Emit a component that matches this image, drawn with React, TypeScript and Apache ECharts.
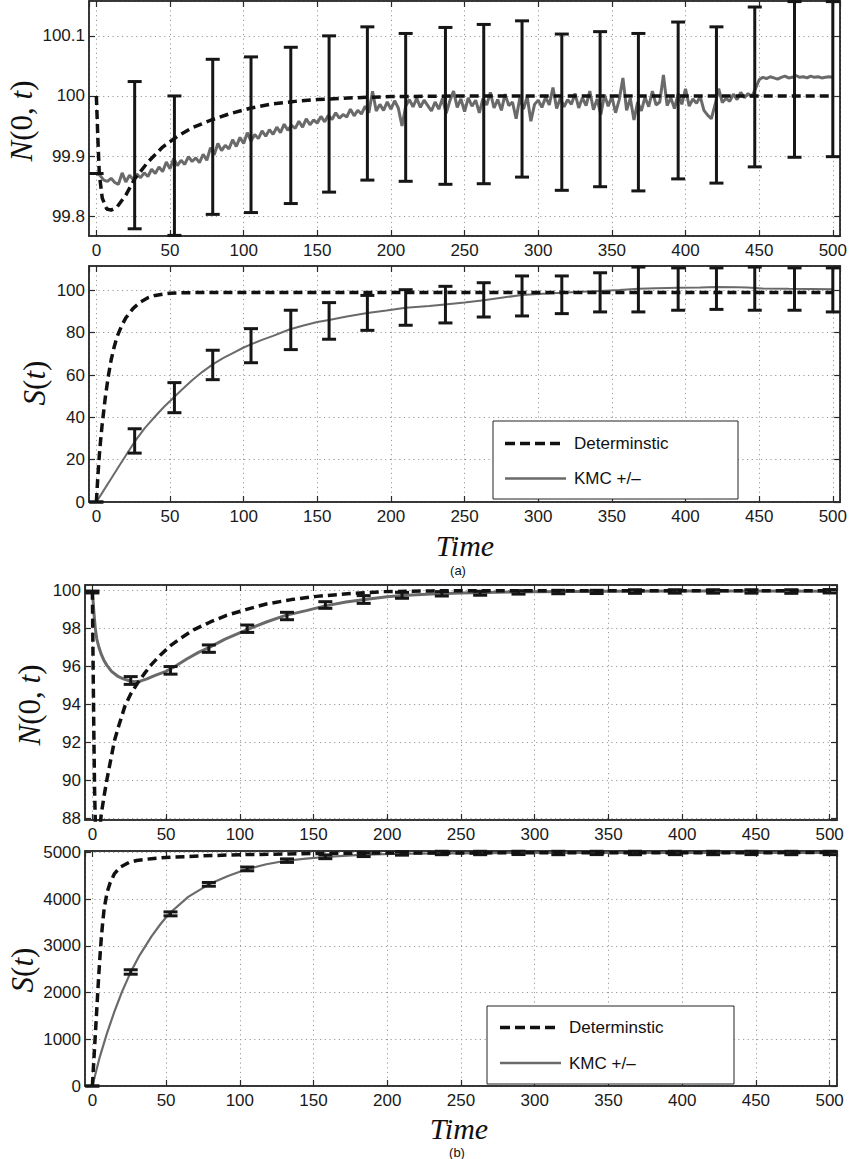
import React, { useEffect, useRef } from "react";
import * as echarts from "echarts";

// ---------- shared ----------
const X_MIN = -5;
const X_MAX = 505;
const X_STEP = 50;
const ERR_T = [0, 26, 53, 79, 105, 132, 158, 184, 210, 237, 263, 289, 316, 342, 368, 395, 421, 447, 474, 500];

// ---------- (a) top: N(0,t) ----------
const A_N_DET_T = [0, 1, 2, 4, 7, 10, 14, 20, 26, 35, 45, 55, 65, 78, 90, 105, 120, 135, 150, 175, 200, 250, 500];
const A_N_DET = [100, 99.93, 99.87, 99.83, 99.812, 99.81, 99.815, 99.835, 99.862, 99.89, 99.915, 99.933, 99.947, 99.96, 99.97, 99.98, 99.987, 99.991, 99.994, 99.997, 99.999, 100, 100];
const A_N_KMC_DT = 2.5;
const A_N_KMC = [
  99.871, 99.868, 99.860, 99.858, 99.863, 99.856, 99.853, 99.872, 99.857, 99.868,
  99.861, 99.870, 99.864, 99.872, 99.866, 99.878, 99.871, 99.882, 99.874, 99.890,
  99.879, 99.896, 99.884, 99.893, 99.886, 99.899, 99.891, 99.897, 99.889, 99.903,
  99.893, 99.914, 99.902, 99.921, 99.909, 99.918, 99.912, 99.927, 99.916, 99.931,
  99.921, 99.939, 99.925, 99.936, 99.929, 99.942, 99.933, 99.944, 99.936, 99.948,
  99.939, 99.953, 99.943, 99.951, 99.946, 99.958, 99.948, 99.962, 99.952, 99.960,
  99.955, 99.966, 99.957, 99.968, 99.961, 99.972, 99.963, 99.969, 99.965, 99.978,
  99.967, 99.976, 99.970, 99.983, 99.972, 100.008, 99.975, 99.986, 99.976, 99.990,
  99.978, 99.992, 99.980, 99.950, 99.983, 99.994, 99.982, 99.996, 99.981, 99.993,
  99.984, 99.975, 99.990, 99.978, 99.996, 99.971, 99.992, 100.008, 99.981, 99.995,
  99.974, 99.997, 99.983, 99.993, 99.972, 99.996, 99.985, 100.006, 99.980, 99.994,
  99.976, 100.003, 99.984, 99.990, 99.962, 99.997, 99.978, 99.999, 99.958, 99.986,
  99.993, 99.981, 99.998, 99.985, 100.014, 99.979, 99.996, 99.982, 99.994, 99.986,
  100.004, 99.980, 99.997, 99.984, 100.008, 99.977, 99.995, 99.969, 100.002, 99.983,
  99.999, 99.972, 99.994, 100.030, 99.976, 99.996, 99.960, 99.990, 99.975, 99.998,
  99.982, 100.008, 99.985, 99.990, 100.035, 99.984, 99.997, 99.979, 100.004, 99.986,
  100.012, 99.983, 99.995, 99.988, 99.999, 99.976, 99.968, 99.962, 99.985, 100.012,
  99.989, 99.996, 99.991, 100.003, 99.994, 100.006, 99.997, 100.004, 99.999, 100.012,
  100.027, 100.031, 100.029, 100.032, 100.030, 100.028, 100.031, 100.033, 100.030, 100.031,
  100.034, 100.031, 100.032, 100.030, 100.033, 100.031, 100.032, 100.030, 100.031, 100.032,
  100.031,
];
const A_N_ERR_LO = [99.871, 99.779, 99.768, 99.803, 99.806, 99.821, 99.84, 99.86, 99.858, 99.853, 99.854, 99.865, 99.843, 99.849, 99.842, 99.862, 99.855, 99.882, 99.898, 99.899];
const A_N_ERR_HI = [99.871, 100.024, 100.0, 100.061, 100.065, 100.081, 100.1, 100.115, 100.104, 100.114, 100.119, 100.125, 100.103, 100.107, 100.104, 100.123, 100.115, 100.148, 100.157, 100.157];

// ---------- (a) bottom: S(t) ----------
const A_S_DET_T = [0, 1, 2, 3, 4, 5, 6, 7, 8, 10, 12, 14, 17, 20, 25, 30, 35, 40, 45, 50, 60, 80, 500];
const A_S_DET = [0, 12, 22, 30, 37, 43, 49, 54, 59, 67, 73, 78, 83, 87, 91.5, 94.5, 96.5, 97.6, 98.2, 98.6, 98.9, 99, 99];
const A_S_KMC_T = [0, 5, 10, 15, 20, 26, 33, 40, 46, 52, 58, 65, 72, 79, 86, 93, 100, 105, 112, 120, 131, 140, 150, 158, 170, 184, 197, 210, 226, 240, 250, 263, 275, 289, 300, 316, 330, 342, 355, 368, 380, 395, 410, 421, 435, 442, 452, 470, 485, 500];
const A_S_KMC = [0, 5.5, 11, 16.5, 22, 28.5, 35, 40.5, 45, 49, 53, 57.5, 61.5, 65, 68, 70.5, 73, 74.5, 76.5, 78.5, 81.5, 83.3, 85, 86, 87.6, 89.3, 90.5, 91.8, 92.6, 93.6, 94.2, 95.3, 96.5, 97.8, 98.3, 98.9, 99.3, 99.7, 100.2, 100.8, 101, 101.2, 101.4, 101.6, 101.5, 101.4, 100.9, 100.7, 100.6, 100.5];
const A_S_ERR_LO = [0, 23.1, 42.2, 57.8, 65.8, 72.0, 76.9, 81.1, 83.5, 84.6, 87.4, 87.9, 89.0, 89.8, 89.8, 90.6, 91.0, 90.6, 90.6, 89.8];
const A_S_ERR_HI = [0, 34.6, 56.4, 71.7, 81.9, 90.6, 94.2, 97.6, 100.3, 101.9, 103.6, 106.8, 106.8, 108.3, 111.0, 110.6, 110.6, 111.0, 110.6, 110.6];

// ---------- (b) top: N(0,t) ----------
const B_N_DET_T = [0, 0.5, 1, 1.5, 2, 2.5, 3, 4, 5, 6, 8, 10, 12, 15, 18, 22, 26, 30, 35, 40, 46, 53, 60, 69, 80, 91, 104, 118, 135, 152, 175, 197, 230, 260, 500];
const B_N_DET = [100, 96, 92.5, 89.5, 87.8, 86.9, 86.5, 86.6, 87.4, 88.2, 89.2, 90.1, 90.9, 92.1, 92.9, 93.9, 94.55, 95.05, 95.6, 96.1, 96.6, 97.1, 97.5, 97.95, 98.35, 98.7, 99.0, 99.3, 99.53, 99.7, 99.85, 99.95, 99.99, 100, 100];
const B_N_KMC_T = [0, 1, 2, 3, 4.5, 6, 8, 10, 13, 17, 21, 25, 28, 32, 37, 43, 50, 57, 64, 72, 79, 90, 105, 118, 131, 145, 158, 172, 186, 200, 210, 230, 250, 275, 300, 350, 400, 450, 500];
const B_N_KMC = [100, 98.9, 98.0, 97.45, 97.0, 96.65, 96.3, 96.05, 95.75, 95.5, 95.35, 95.25, 95.2, 95.22, 95.35, 95.55, 95.75, 96.05, 96.4, 96.75, 97.0, 97.45, 97.95, 98.35, 98.7, 98.95, 99.2, 99.4, 99.55, 99.68, 99.75, 99.83, 99.88, 99.92, 99.95, 99.97, 99.98, 99.98, 99.97];
const B_N_ERR_LO = [99.88, 95.06, 95.6, 96.75, 97.8, 98.47, 99.07, 99.33, 99.6, 99.72, 99.76, 99.82, 99.84, 99.85, 99.86, 99.87, 99.87, 99.87, 99.86, 99.88];
const B_N_ERR_HI = [99.98, 95.47, 96.0, 97.14, 98.19, 98.86, 99.42, 99.74, 99.91, 99.95, 99.97, 100.0, 100.02, 100.02, 100.05, 100.05, 100.05, 100.05, 100.05, 100.06];

// ---------- (b) bottom: S(t) ----------
const B_S_DET_T = [0, 1, 2, 3, 4, 5, 6, 7, 8, 10, 12, 15, 19, 25, 30, 40, 50, 75, 100, 150, 200, 500];
const B_S_DET = [0, 560, 1100, 1650, 2200, 2700, 3150, 3500, 3800, 4150, 4350, 4550, 4690, 4790, 4830, 4870, 4895, 4930, 4955, 4980, 4992, 5000];
const B_S_KMC_T = [0, 5, 10, 15, 20, 26, 32, 40, 46, 52, 65, 79, 92, 105, 118, 131, 145, 158, 170, 185, 210, 240, 270, 300, 500];
const B_S_KMC = [0, 620, 1140, 1600, 2010, 2440, 2800, 3200, 3460, 3690, 4050, 4320, 4500, 4650, 4750, 4825, 4872, 4905, 4930, 4955, 4975, 4985, 4990, 4993, 4993];
const B_S_ERR_LO = [0, 2395, 3645, 4280, 4610, 4790, 4870, 4915, 4945, 4955, 4955, 4958, 4955, 4957, 4955, 4956, 4955, 4957, 4955, 4956];
const B_S_ERR_HI = [0, 2490, 3730, 4360, 4690, 4865, 4950, 4995, 5020, 5028, 5028, 5029, 5028, 5028, 5029, 5028, 5028, 5029, 5028, 5028];

// ---------- panel axes ----------
const GRIDS = [
  { left: 89, top: 1, width: 753, height: 235, yMin: 99.767, yMax: 100.158, yStep: 0.1, showMin: false },
  { left: 89, top: 266, width: 753, height: 236, yMin: 0, yMax: 111.5, yStep: 20, showMin: true },
  { left: 85, top: 585, width: 752, height: 235, yMin: 87.91, yMax: 100.3, yStep: 2, showMin: false },
  { left: 85, top: 851, width: 752, height: 235, yMin: 0, yMax: 5034, yStep: 1000, showMin: true },
];

const AXIS_COLOR = "#2a2a2a";
const DET_COLOR = "#111111";
const KMC_COLOR = "#6a6a6a";
const ERR_COLOR = "#161616";
const SANS = "'Liberation Sans', Arial, Helvetica, sans-serif";
const SERIF = "'Liberation Serif', 'Times New Roman', serif";
const TICK_FONT = 17;

const fmt = (v: number) => String(Math.round(v * 1000) / 1000);

function pairs(t: number[], v: number[]) {
  return t.map((x, i) => [x, v[i]]);
}

function buildAxes() {
  const xAxis: any[] = [];
  const yAxis: any[] = [];
  GRIDS.forEach((g, gi) => {
    const lineStyle = { color: AXIS_COLOR, width: 1.5 };
    const tick = { show: true, inside: true, length: 6, lineStyle: { color: AXIS_COLOR, width: 1.2 } };
    const split = { show: true, lineStyle: { color: "#9a9a9a", width: 1, type: [1.2, 3.5] } };
    xAxis.push({
      type: "value", gridIndex: gi, position: "bottom", min: X_MIN, max: X_MAX,
      minInterval: X_STEP, maxInterval: X_STEP,
      axisLine: { show: true, onZero: false, lineStyle },
      axisTick: tick,
      axisLabel: { show: true, margin: 6, showMinLabel: false, showMaxLabel: false, fontFamily: SANS, fontSize: TICK_FONT, color: "#1a1a1a", formatter: fmt },
      splitLine: split,
    });
    xAxis.push({
      type: "value", gridIndex: gi, position: "top", min: X_MIN, max: X_MAX,
      minInterval: X_STEP, maxInterval: X_STEP,
      axisLine: { show: true, onZero: false, lineStyle },
      axisTick: tick, axisLabel: { show: false }, splitLine: { show: false },
    });
    yAxis.push({
      type: "value", gridIndex: gi, position: "left", min: g.yMin, max: g.yMax,
      minInterval: g.yStep, maxInterval: g.yStep,
      axisLine: { show: true, onZero: false, lineStyle },
      axisTick: tick,
      axisLabel: { show: true, margin: 4, showMinLabel: g.showMin, showMaxLabel: false, fontFamily: SANS, fontSize: TICK_FONT, color: "#1a1a1a", formatter: fmt },
      splitLine: split,
    });
    yAxis.push({
      type: "value", gridIndex: gi, position: "right", min: g.yMin, max: g.yMax,
      minInterval: g.yStep, maxInterval: g.yStep,
      axisLine: { show: true, onZero: false, lineStyle },
      axisTick: tick, axisLabel: { show: false }, splitLine: { show: false },
    });
  });
  return { xAxis, yAxis };
}

function detSeries(gi: number, data: number[][]) {
  return {
    type: "line", xAxisIndex: gi * 2, yAxisIndex: gi * 2, data, showSymbol: false, symbol: "none",
    clip: true, z: 5,
    lineStyle: { color: DET_COLOR, width: 3.5, type: [9, 5] },
  };
}
function kmcSeries(gi: number, data: number[][], width: number) {
  return {
    type: "line", xAxisIndex: gi * 2, yAxisIndex: gi * 2, data, showSymbol: false, symbol: "none",
    clip: true, z: 3,
    lineStyle: { color: KMC_COLOR, width },
  };
}
function errSeries(gi: number, lo: number[], hi: number[]) {
  return {
    type: "custom", xAxisIndex: gi * 2, yAxisIndex: gi * 2, z: 4,
    data: ERR_T.map((t, i) => [t, lo[i], hi[i]]),
    encode: { x: 0, y: [1, 2] },
    renderItem: (params: any, api: any) => {
      const x = api.value(0);
      const pLo = api.coord([x, api.value(1)]);
      const pHi = api.coord([x, api.value(2)]);
      const w = 7;
      const style = { stroke: ERR_COLOR, lineWidth: 3, fill: null };
      return {
        type: "group",
        children: [
          { type: "line", shape: { x1: pLo[0], y1: pLo[1], x2: pHi[0], y2: pHi[1] }, style },
          { type: "line", shape: { x1: pLo[0] - w, y1: pLo[1], x2: pLo[0] + w, y2: pLo[1] }, style },
          { type: "line", shape: { x1: pHi[0] - w, y1: pHi[1], x2: pHi[0] + w, y2: pHi[1] }, style },
        ],
      };
    },
  };
}

function yTitle(x: number, y: number, text: string) {
  return {
    type: "text", x, y, rotation: Math.PI / 2, z: 100,
    style: {
      text, align: "center", verticalAlign: "middle",
      rich: {
        i: { fontFamily: SERIF, fontStyle: "italic", fontSize: 31, fill: "#111" },
        r: { fontFamily: SERIF, fontSize: 31, fill: "#111" },
      },
    },
  };
}
function plainText(x: number, y: number, text: string, font: string) {
  return { type: "text", x, y, z: 100, style: { text, font, fill: "#111", align: "center", verticalAlign: "middle" } };
}
function legend(x: number, y: number, w: number, h: number, lineX1: number, lineX2: number, textX: number, row1: number, row2: number) {
  return [
    { type: "rect", z: 100, shape: { x, y, width: w, height: h }, style: { fill: "#fff", stroke: "#222", lineWidth: 1 } },
    { type: "line", z: 101, shape: { x1: lineX1, y1: row1, x2: lineX2, y2: row1 }, style: { stroke: DET_COLOR, lineWidth: 3.5, lineDash: [10, 5] } },
    { type: "line", z: 101, shape: { x1: lineX1, y1: row2, x2: lineX2 + 6, y2: row2 }, style: { stroke: KMC_COLOR, lineWidth: 2.5 } },
    { type: "text", z: 101, x: textX, y: row1, style: { text: "Determinstic", font: `17px ${SANS}`, fill: "#111", verticalAlign: "middle" } },
    { type: "text", z: 101, x: textX, y: row2, style: { text: "KMC +/–", font: `17px ${SANS}`, fill: "#111", verticalAlign: "middle" } },
  ];
}

export default function App() {
  const ref = useRef<HTMLDivElement>(null);
  useEffect(() => {
    document.body.style.margin = "0";
    if (!ref.current) return;
    const chart = echarts.init(ref.current, null, { renderer: "svg" });
    const { xAxis, yAxis } = buildAxes();
    const option: any = {
      animation: false,
      backgroundColor: "#ffffff",
      grid: GRIDS.map((g) => ({ left: g.left, top: g.top, width: g.width, height: g.height, show: true, borderColor: AXIS_COLOR, borderWidth: 1.5, backgroundColor: "#fff" })),
      xAxis,
      yAxis,
      series: [
        kmcSeries(0, A_N_KMC.map((v, i) => [i * A_N_KMC_DT, v]), 3),
        errSeries(0, A_N_ERR_LO, A_N_ERR_HI),
        detSeries(0, pairs(A_N_DET_T, A_N_DET)),
        kmcSeries(1, pairs(A_S_KMC_T, A_S_KMC), 2),
        errSeries(1, A_S_ERR_LO, A_S_ERR_HI),
        detSeries(1, pairs(A_S_DET_T, A_S_DET)),
        kmcSeries(2, pairs(B_N_KMC_T, B_N_KMC), 3),
        errSeries(2, B_N_ERR_LO, B_N_ERR_HI),
        detSeries(2, pairs(B_N_DET_T, B_N_DET)),
        kmcSeries(3, pairs(B_S_KMC_T, B_S_KMC), 2.2),
        errSeries(3, B_S_ERR_LO, B_S_ERR_HI),
        detSeries(3, pairs(B_S_DET_T, B_S_DET)),
      ],
      graphic: {
        elements: [
          yTitle(21, 121, "{i|N}{r|(0, }{i|t}{r|)}"),
          yTitle(34, 383, "{i|S}{r|(}{i|t}{r|)}"),
          yTitle(29, 705, "{i|N}{r|(0, }{i|t}{r|)}"),
          yTitle(22, 970, "{i|S}{r|(}{i|t}{r|)}"),
          plainText(465, 545, "Time", `italic 30px ${SERIF}`),
          plainText(458, 570, "(a)", `13px ${SANS}`),
          plainText(459, 1128.5, "Time", `italic 30px ${SERIF}`),
          plainText(457, 1152.5, "(b)", `13px ${SANS}`),
          ...legend(493, 421, 245, 78, 505, 560, 574, 443.5, 478.5),
          ...legend(487, 1006, 247, 78, 500, 555, 569, 1027.5, 1063),
        ],
      },
    };
    chart.setOption(option);
    return () => chart.dispose();
  }, []);
  return <div ref={ref} style={{ width: 850, height: 1159 }} />;
}
